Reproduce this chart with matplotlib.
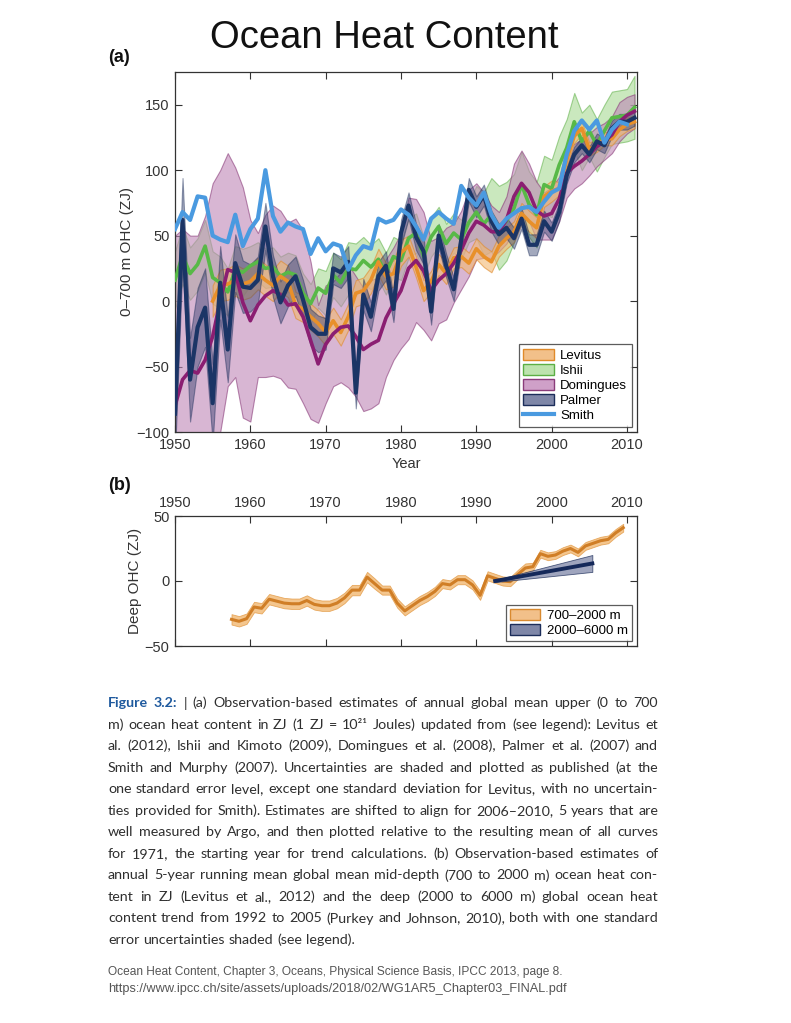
import numpy as np
import matplotlib.pyplot as plt
from matplotlib.patches import Patch
from matplotlib.lines import Line2D

nan = np.nan

# ── Panel (a): 0-700 m ocean heat content, ZJ ──────────────────
years = np.arange(1950, 2012)

levitus = [nan, nan, nan, nan, nan, 0, 12, 13, 16, 13,
           15, 21, 16, 12, 19, 15, -3, -6, -12, -17,
           -24, -15, -24, -12, 6, 8, 16, 30, 19, 21,
           37, 42, 26, 8, 15, 28, 21, 33, 34, 29,
           40, 34, 30, 42, 48, 53, 67, 61, 56, 80,
           84, 86, 108, 126, 132, 116, 119, 124, 124, 131,
           135, 137]
levitus_err = [nan, nan, nan, nan, nan, 12, 12, 12, 12, 12,
               12, 12, 12, 12, 12, 12, 10, 10, 10, 10,
               10, 10, 10, 10, 10, 10, 10, 10, 10, 10,
               10, 8, 8, 8, 8, 8, 8, 8, 8, 8,
               8, 8, 8, 8, 8, 8, 8, 8, 8, 8,
               8, 5, 5, 5, 5, 5, 5, 5, 5, 5,
               5, 5]

ishii = [16, 35, 21, 28, 42, 18, 14, 7, 24, 22,
         27, 30, 25, 26, 19, 22, 20, 6, -2, 10,
         6, 20, 14, 25, 24, 31, 26, 32, 21, 34,
         31, 48, 52, 34, 49, 57, 44, 52, 47, 60,
         68, 59, 66, 56, 61, 71, 89, 74, 66, 89,
         86, 104, 117, 137, 122, 130, 119, 130, 140, 141,
         142, 148]
ishii_err = [22, 22, 20, 20, 20, 20, 20, 18, 18, 18,
             15, 15, 15, 15, 15, 15, 15, 15, 15, 15,
             17, 17, 18, 20, 20, 18, 17, 16, 16, 15,
             15, 15, 15, 15, 15, 15, 15, 15, 15, 15,
             20, 24, 28, 32, 30, 26, 25, 25, 25, 22,
             22, 22, 22, 22, 22, 20, 20, 20, 20, 20,
             20, 24]

domingues = [-80, -60, -53, -55, -45, -27, 0, 24, 22, -1,
             -15, -3, 4, 8, 5, -3, -2, -12, -30, -48,
             -33, -25, -20, -19, -27, -37, -33, -30, -13, -2,
             8, 25, 31, 23, 8, 16, 21, 29, 39, 52,
             61, 58, 53, 53, 62, 80, 90, 83, 69, 65,
             67, 78, 98, 103, 107, 112, 118, 122, 127, 137,
             142, 145]
domingues_err = [130, 115, 103, 105, 110, 117, 100, 89, 80, 88,
                 77, 55, 62, 65, 64, 63, 65, 66, 60, 45,
                 45, 40, 42, 47, 46, 47, 49, 48, 45, 43,
                 44, 54, 47, 45, 38, 33, 35, 30, 30, 33,
                 29, 25, 20, 15, 18, 25, 25, 22, 22, 18,
                 20, 17, 19, 17, 17, 16, 15, 14, 14, 15,
                 14, 13]

palmer = [-86, 62, -60, -20, -5, -78, 14, -37, 29, 11,
          10, 16, 57, 19, -1, 12, 19, 1, -20, -25,
          -25, 25, 22, 30, -70, 5, -12, 19, 27, -6,
          52, 73, 49, 38, -8, 50, 27, 9, 47, 85,
          72, 81, 61, 51, 56, 48, 63, 43, 43, 61,
          53, 68, 96, 112, 119, 112, 122, 119, 132, 137,
          137, 140]
palmer_err = [32, 32, 32, 30, 30, 30, 28, 25, 22, 20,
              18, 18, 18, 16, 16, 16, 15, 15, 14, 14,
              12, 12, 12, 12, 12, 12, 11, 11, 11, 10,
              10, 10, 10, 10, 10, 9, 9, 9, 9, 9,
              8, 8, 8, 8, 8, 8, 8, 8, 8, 8,
              7, 7, 6, 6, 6, 6, 6, 6, 6, 6,
              6, 6]

smith = [55, 68, 62, 80, 79, 50, 47, 45, 66, 42,
         55, 63, 100, 65, 53, 60, 57, 55, 36, 48,
         38, 44, 42, 24, 35, 42, 40, 63, 60, 62,
         70, 66, 57, 47, 63, 68, 63, 59, 88, 79,
         73, 83, 66, 56, 63, 67, 71, 72, 68, 76,
         83, 86, 112, 130, 138, 131, 138, 121, 131, 137,
         135, nan]

# ── Panel (b): deep ocean heat content, ZJ ────────────────────
deep_years = np.arange(1957, 2010) + 0.5
mid_depth = [-29.5, -31, -29, -20, -21, -14, -15.5, -17, -17.5, -17.5,
             -15, -18, -19, -19, -17, -13, -7, -7, 3, -2,
             -7, -7, -17, -23, -19, -15, -12, -8, -2, -3,
             1, 1, -3, -11, 4, 2, 0, -0.5, 5, 10,
             11, 21, 19, 20, 23, 25, 22, 27, 29, 31,
             32, 37, 41]
mid_depth_err = [4, 4, 4, 4, 4, 4, 4, 4, 4, 4,
                 4, 4, 4, 4, 4, 4, 4, 4, 4, 4,
                 3.5, 3.5, 3.5, 3.5, 3.5, 3.5, 3.5, 3.5, 3.5, 3.5,
                 3.5, 3.5, 3.5, 3.5, 3.5, 3.5, 3.5, 3.5, 3.5, 3.5,
                 3, 3, 3, 3, 3, 3, 3, 3, 3, 3,
                 3, 3, 3]
trend_years = [1992.5, 2005.4]
trend_vals = [0, 13.5]
trend_err = [0.8, 6.5]

caption_lines = [
    "Figure 3.2: | (a) Observation-based estimates of annual global mean upper (0 to 700",
    "m) ocean heat content in ZJ (1 ZJ = 10²¹ Joules) updated from (see legend): Levitus et",
    "al. (2012), Ishii and Kimoto (2009), Domingues et al. (2008), Palmer et al. (2007) and",
    "Smith and Murphy (2007). Uncertainties are shaded and plotted as published (at the",
    "one standard error level, except one standard deviation for Levitus, with no uncertain-",
    "ties provided for Smith). Estimates are shifted to align for 2006–2010, 5 years that are",
    "well measured by Argo, and then plotted relative to the resulting mean of all curves",
    "for 1971, the starting year for trend calculations. (b) Observation-based estimates of",
    "annual 5-year running mean global mean mid-depth (700 to 2000 m) ocean heat con-",
    "tent in ZJ (Levitus et al., 2012) and the deep (2000 to 6000 m) global ocean heat",
    "content trend from 1992 to 2005 (Purkey and Johnson, 2010), both with one standard",
    "error uncertainties shaded (see legend).",
]
source_lines = [
    "Ocean Heat Content, Chapter 3, Oceans, Physical Science Basis, IPCC 2013, page 8.",
    "https://www.ipcc.ch/site/assets/uploads/2018/02/WG1AR5_Chapter03_FINAL.pdf",
]

# ── styles ────────────────────────────────────────────────────
plt.rcParams["font.family"] = ["Liberation Sans", "DejaVu Sans"]
INK = "#333333"

series = [
    # name, values, err, line colour, fill colour, edge colour, fill alpha
    ("Ishii", ishii, ishii_err, "#58B947", "#9FD68A", "#5CAF44", 0.55),
    ("Domingues", domingues, domingues_err, "#8B1E72", "#BE86B6", "#8A3C7A", 0.6),
    ("Levitus", levitus, levitus_err, "#E8902A", "#F2B872", "#E08A2A", 0.6),
    ("Palmer", palmer, palmer_err, "#1B3566", "#34406E", "#1C2D5A", 0.45),
]

W_PX, H_PX = 791, 1023
fig = plt.figure(figsize=(W_PX / 100, H_PX / 100), dpi=100, facecolor="white")

ax_a = fig.add_axes([175 / W_PX, 1 - 432 / H_PX, 462 / W_PX, 360 / H_PX])
ax_b = fig.add_axes([175 / W_PX, 1 - 646 / H_PX, 462 / W_PX, 130 / H_PX])

# bands
for name, vals, err, lc, fc, ec, al in series:
    v = np.array(vals, dtype=float)
    e = np.array(err, dtype=float)
    ax_a.fill_between(years, v - e, v + e, facecolor=fc, edgecolor=ec,
                      alpha=al, linewidth=0.8, zorder=2)

# lines
line_order = ["Ishii", "Levitus", "Domingues", "Palmer"]
for name in line_order:
    s = [t for t in series if t[0] == name][0]
    ax_a.plot(years, s[1], color=s[3], lw=2.6 if name != "Palmer" else 3.0,
              zorder=4)
ax_a.plot(years, smith, color="#4A9AE0", lw=3.0, zorder=5)

ax_a.set_xlim(1950, 2011.33)
ax_a.set_ylim(-100, 175)
ax_a.set_xticks([1950, 1960, 1970, 1980, 1990, 2000, 2010])
ax_a.set_yticks([-100, -50, 0, 50, 100, 150])
ax_a.set_xlabel("Year", fontsize=10.5, color=INK, labelpad=4)
ax_a.set_ylabel("0–700 m OHC (ZJ)", fontsize=11, color=INK, labelpad=2)

handles = [
    Patch(facecolor="#F2C08A", edgecolor="#E08A2A", label="Levitus"),
    Patch(facecolor="#BDE3AE", edgecolor="#5CAF44", label="Ishii"),
    Patch(facecolor="#CFA0C8", edgecolor="#8A3C7A", label="Domingues"),
    Patch(facecolor="#7F87A8", edgecolor="#1C2D5A", label="Palmer"),
    Line2D([], [], color="#4A9AE0", lw=3.0, label="Smith"),
]
leg = ax_a.legend(handles=handles, loc="lower right", fontsize=9.5,
                  frameon=True, fancybox=False, edgecolor=INK,
                  borderaxespad=0.4, labelspacing=0.15, handlelength=2.3,
                  handleheight=0.9, handletextpad=0.5, borderpad=0.35)
leg.get_frame().set_linewidth(0.9)
leg.set_zorder(10)

# ── panel (b) ─────────────────────────────────────────────────
md = np.array(mid_depth, dtype=float)
mde = np.array(mid_depth_err, dtype=float)
ax_b.fill_between(deep_years, md - mde, md + mde, facecolor="#F2B872",
                  edgecolor="#E39A45", alpha=0.8, linewidth=0.6, zorder=2)
ax_b.plot(deep_years, md, color="#D07E26", lw=2.2, zorder=3)

tv = np.array(trend_vals, dtype=float)
te = np.array(trend_err, dtype=float)
ax_b.fill_between(trend_years, tv - te, tv + te, facecolor="#7F87A8",
                  edgecolor="#1C2D5A", alpha=0.75, linewidth=0.6, zorder=4)
ax_b.plot(trend_years, tv, color="#15295A", lw=2.8, zorder=5)

ax_b.set_xlim(1950, 2011.33)
ax_b.set_ylim(-50, 50)
ax_b.set_xticks([1950, 1960, 1970, 1980, 1990, 2000, 2010])
ax_b.set_yticks([-50, 0, 50])
ax_b.set_ylabel("Deep OHC (ZJ)", fontsize=11, color=INK, labelpad=2)
ax_b.tick_params(axis="x", labeltop=True, labelbottom=False)

handles_b = [
    Patch(facecolor="#F2C08A", edgecolor="#D98A30", label="700–2000 m"),
    Patch(facecolor="#7F87A8", edgecolor="#1C2D5A", label="2000–6000 m"),
]
leg_b = ax_b.legend(handles=handles_b, loc="lower right", fontsize=9.5,
                    frameon=True, fancybox=False, edgecolor=INK,
                    borderaxespad=0.4, labelspacing=0.15, handlelength=2.3,
                    handleheight=0.9, handletextpad=0.5, borderpad=0.3)
leg_b.get_frame().set_linewidth(0.9)

for ax in (ax_a, ax_b):
    ax.tick_params(direction="in", top=True, right=True, length=5,
                   width=0.8, labelsize=10.5, colors=INK, pad=4)
    for sp in ax.spines.values():
        sp.set_color(INK)
        sp.set_linewidth(0.9)

# ── headings ──────────────────────────────────────────────────
fig.text(384 / W_PX, 1 - 38 / H_PX, "Ocean Heat Content", ha="center",
         va="center", fontsize=27.5, color="#111111")
fig.text(108 / W_PX, 1 - 58 / H_PX, "(a)", ha="left", va="center",
         fontsize=13, weight="bold", color="#111111")
fig.text(108 / W_PX, 1 - 485 / H_PX, "(b)", ha="left", va="center",
         fontsize=13, weight="bold", color="#111111")

# ── caption, justified line by line ───────────────────────────
cap_font = ["Lato", "DejaVu Sans"]
renderer = fig.canvas.get_renderer()
x0, x1 = 108 / W_PX, 658 / W_PX
avail_px = (x1 - x0) * W_PX

# pick one font size so the widest line still fits
probe_size = 10.0
ratios = []
for line in caption_lines[:-1]:
    t = fig.text(0, 0, line, fontsize=probe_size, family=cap_font)
    ratios.append(avail_px / t.get_window_extent(renderer).width)
    t.remove()
cap_size = probe_size * min(ratios) * 0.985

for i, line in enumerate(caption_lines):
    y = 1 - (703 + i * 21.55) / H_PX
    words = line.split(" ")
    objs = []
    for j, w in enumerate(words):
        kw = dict(fontsize=cap_size, family=cap_font, color="#2f2f2f",
                  va="center", ha="left")
        if i == 0 and j < 2:
            kw.update(color="#1f5a9e", weight="bold")
        objs.append(fig.text(x0, y, w, **kw))
    widths = [o.get_window_extent(renderer).width / fig.bbox.width for o in objs]
    if i < len(caption_lines) - 1:
        gap = (x1 - x0 - sum(widths)) / (len(objs) - 1)
    else:
        gap = 0.27 * cap_size * 1.389 / W_PX
    x = x0
    for o, w in zip(objs, widths):
        o.set_x(x)
        x += w + gap

source_sizes = [8.6, 9.2]
for k, s in enumerate(source_lines):
    fig.text(108 / W_PX, 1 - (972 + k * 17) / H_PX, s, ha="left", va="center",
             fontsize=source_sizes[k], color="#555555")

fig.savefig("out.png", dpi=100, facecolor="white")
